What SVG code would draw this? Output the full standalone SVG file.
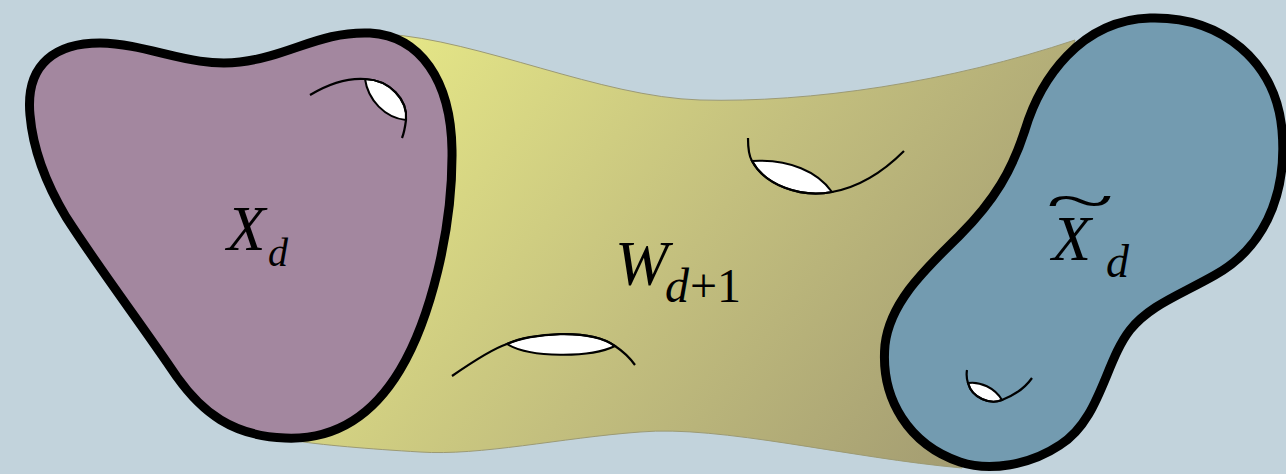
<svg xmlns="http://www.w3.org/2000/svg" width="1286" height="474" viewBox="0 0 1286 474">
<defs>
<linearGradient id="bandGrad" gradientUnits="userSpaceOnUse" x1="420" y1="40" x2="960" y2="460">
<stop offset="0" stop-color="#e3e486"/>
<stop offset="0.5" stop-color="#c3bf7e"/>
<stop offset="1" stop-color="#a49d72"/>
</linearGradient>
<style>
.blob{stroke:#000;stroke-width:9;stroke-linejoin:round}
.arc{fill:none;stroke:#000;stroke-width:2.2;stroke-linecap:butt}
.lens{fill:#fff;stroke:#000;stroke-width:2}
.lbl{font-family:"Liberation Serif","Times New Roman",serif;font-style:italic;fill:#000}
.num{font-family:"Liberation Serif","Times New Roman",serif;fill:#000}
</style>
</defs>
<rect x="0" y="0" width="1286" height="474" fill="#c2d3dc"/>
<g id="band">
<path d="M 385,34 C 480,40 600,97 700,100 C 810,103 950,82 1075,40 L 1010,280 L 962,468 C 850,458 720,425 640,432 C 560,438 480,456 420,452 C 370,449 320,445 290,440 Z" fill="url(#bandGrad)" stroke="#9c9a74" stroke-width="1"/>
</g>
<g id="blob-left">
<path class="blob" fill="#a3879f" d="M 30,115 C 25,62 58,43 100,43 C 150,44 190,68 240,62 C 290,56 320,31 370,33 C 420,36 451,80 452,150 C 453,230 430,320 400,370 C 370,420 330,440 285,438 C 232,436 202,412 177,377 C 140,322 100,270 66,217 C 45,182 33,150 30,115 Z"/>
</g>
<g id="blob-right">
<path class="blob" fill="#739bb0" d="M 1150,18 C 1222,16 1276,62 1282,130 C 1288,200 1260,250 1215,275 C 1180,295 1150,305 1130,330 C 1105,362 1100,420 1060,445 C 1030,465 990,472 960,462 C 910,445 880,400 885,345 C 890,300 930,265 960,235 C 995,200 1012,170 1025,130 C 1040,80 1080,20 1150,18 Z"/>
</g>
<g id="holes">
<path class="lens" d="M 365,79 C 390,80 408,100 406,120 C 385,118 368,100 365,79 Z"/>
<path class="arc" d="M 310,95 C 330,83 350,78 365,79 C 390,80 408,100 406,120 C 405,128 404,133 402,138"/>
<path class="lens" d="M 752,161 C 765,185 800,198 832,192 C 818,172 790,159 752,161 Z"/>
<path class="arc" d="M 748,138 C 748,150 749,156 752,161 C 765,185 800,198 832,192 C 860,187 885,170 904,151"/>
<path class="lens" d="M 507,344 C 530,333 590,328 615,346 C 590,358 530,358 507,344 Z"/>
<path class="arc" d="M 452,376 C 478,358 495,348 507,344 C 530,333 590,328 615,346 C 624,352 630,358 635,365"/>
<path class="lens" d="M 968,383 C 972,398 990,405 1002,400 C 995,388 980,381 968,383 Z"/>
<path class="arc" d="M 967,370 C 966,376 967,380 968,383 C 972,398 990,405 1002,400 C 1015,395 1025,388 1032,378"/>
</g>
<g id="labels">
<text class="lbl" x="227" y="250" font-size="63">X</text>
<text class="lbl" x="268" y="266" font-size="40">d</text>
<text class="lbl" x="615" y="285" font-size="64">W</text>
<text class="lbl" x="665" y="302" font-size="48">d</text>
<text class="num" x="690" y="302" font-size="48">+1</text>
<text class="lbl" x="1052" y="260" font-size="64">X</text>
<text class="num" x="0" y="0" font-size="60" transform="translate(1046,221) scale(2.1,1)">~</text>
<text class="lbl" x="1106" y="277" font-size="46">d</text>
</g>
</svg>
